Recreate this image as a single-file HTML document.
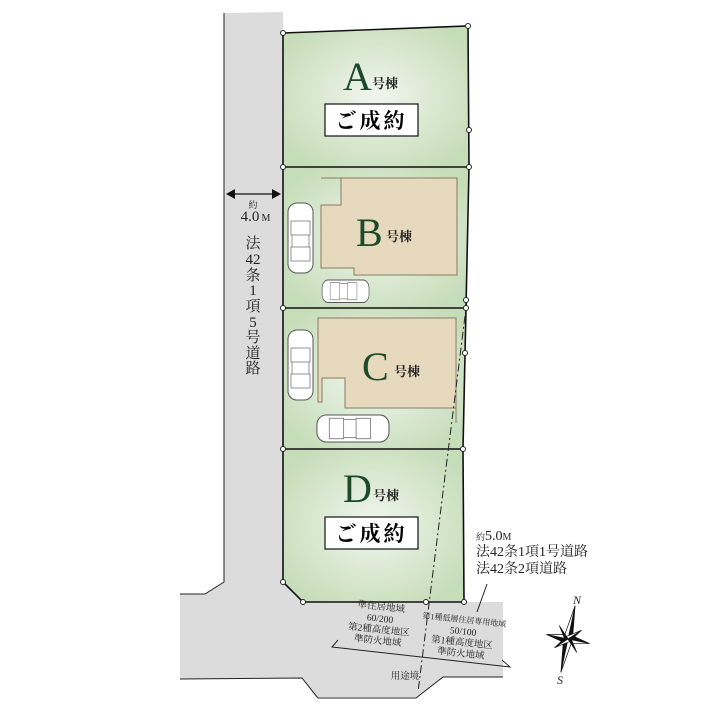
<!DOCTYPE html>
<html><head><meta charset="utf-8"><style>
html,body{margin:0;padding:0;background:#fff}
svg{display:block}
text{font-family:"Liberation Serif","Noto Serif CJK SC","Noto Sans CJK JP",serif}
</style></head><body>
<svg width="709" height="709" viewBox="0 0 709 709" xmlns="http://www.w3.org/2000/svg">
<defs>
<radialGradient id="g" cx="50%" cy="50%" r="60%">
<stop offset="0" stop-color="#f1f6ee"/><stop offset="1" stop-color="#c6ddb9"/>
</radialGradient>
<g id="carv">
<rect x="0" y="0" width="25" height="70" rx="9" fill="#fff" stroke="#555" stroke-width="1"/>
<rect x="3" y="18" width="19" height="14" fill="#fff" stroke="#666" stroke-width="0.7"/>
<rect x="3" y="44" width="19" height="14" fill="#fff" stroke="#666" stroke-width="0.7"/>
<line x1="4" y1="32" x2="4" y2="44" stroke="#666" stroke-width="0.7"/>
<line x1="21" y1="32" x2="21" y2="44" stroke="#666" stroke-width="0.7"/>
</g>
</defs>
<polygon points="224,13 283,12 283,582 303,602 503,602 503,677 443,677 416,697 315,697 302,678 180,679 180,594 205,594 224,582" fill="#dcdcdc"/>
<polyline points="224,13 224,582 205,594 180,594" fill="none" stroke="#222" stroke-width="1"/>
<polyline points="180,679 302,678 318,698 416,698 443,677 503,677" fill="none" stroke="#222" stroke-width="1"/>
<polygon points="283,33 468,26 469,167 283,167" fill="url(#g)"/>
<polygon points="283,167 469,167 466,308 283,308" fill="url(#g)"/>
<polygon points="283,308 466,308 463,449 283,449" fill="url(#g)"/>
<polygon points="283,449 463,449 464,602 303,602 283,582" fill="url(#g)"/>
<g fill="none" stroke="#111" stroke-width="1.6">
<polygon points="283,33 468,26 469,167 466,308 463,449 464,602 303,602 283,582"/>
<line x1="283" y1="167" x2="469" y2="167"/>
<line x1="283" y1="308" x2="466" y2="308"/>
<line x1="283" y1="449" x2="463" y2="449"/>
</g>
<polygon points="341,178 457,178 457,275 354,275 354,268 321,268 321,205 341,205" fill="#e6d9be" stroke="#8a7a60" stroke-width="1"/>
<line x1="321" y1="178" x2="341" y2="178" stroke="#8a7a60"/>
<polygon points="318,318 456,318 456,408 345,408 345,378 322,378 322,402 318,402" fill="#e6d9be" stroke="#8a7a60" stroke-width="1"/>
<line x1="456" y1="408" x2="456" y2="423" stroke="#8a7a60"/>
<use href="#carv" x="288" y="203"/>
<use href="#carv" x="288" y="330"/>
<g transform="translate(369,280) rotate(90)"><use href="#carv" x="0" y="0" transform="scale(0.9,0.67)"/></g>
<g transform="translate(389,415) rotate(90)"><use href="#carv" x="0" y="0" transform="scale(1.08,1.03)"/></g>
<line x1="467" y1="300" x2="418" y2="692" stroke="#222" stroke-width="1" stroke-dasharray="8,3,2,3"/>
<g fill="#fff" stroke="#222" stroke-width="1">
<circle cx="283" cy="33" r="2.5"/><circle cx="468" cy="26" r="2.5"/><circle cx="469" cy="130" r="2.5"/>
<circle cx="283" cy="167" r="2.5"/><circle cx="469" cy="167" r="2.5"/>
<circle cx="466" cy="300" r="2.5"/><circle cx="283" cy="308" r="2.5"/><circle cx="466" cy="308" r="2.5"/>
<circle cx="465" cy="353" r="2.5"/><circle cx="283" cy="449" r="2.5"/><circle cx="463" cy="449" r="2.5"/>
<circle cx="283" cy="582" r="2.5"/><circle cx="303" cy="602" r="2.5"/><circle cx="426" cy="602" r="2.5"/><circle cx="464" cy="602" r="2.5"/>
</g>
<g fill="#1c4a2a">
<text x="343" y="90" font-size="40">A</text><text x="372" y="88" font-size="13" font-weight="bold" fill="#222">号棟</text>
<text x="356" y="246" font-size="40">B</text><text x="386" y="241" font-size="13" font-weight="bold" fill="#222">号棟</text>
<text x="362" y="380" font-size="40">C</text><text x="394" y="376" font-size="13" font-weight="bold" fill="#222">号棟</text>
<text x="343" y="502" font-size="40">D</text><text x="373" y="500" font-size="13" font-weight="bold" fill="#222">号棟</text>
</g>
<rect x="325" y="104" width="93" height="32" fill="#fff" stroke="#111" stroke-width="1.2"/>
<text x="371.5" y="128" font-size="21" font-weight="bold" text-anchor="middle" letter-spacing="3" style="font-family:'Noto Serif CJK SC','Noto Sans CJK JP',serif">ご成約</text>
<rect x="325" y="517" width="93" height="32" fill="#fff" stroke="#111" stroke-width="1.2"/>
<text x="371.5" y="541" font-size="21" font-weight="bold" text-anchor="middle" letter-spacing="3" style="font-family:'Noto Serif CJK SC','Noto Sans CJK JP',serif">ご成約</text>
<line x1="230" y1="194" x2="277" y2="194" stroke="#111" stroke-width="1.2"/>
<polygon points="226,194 235,189 235,199" fill="#111"/><polygon points="281,194 272,189 272,199" fill="#111"/>
<g font-size="15" text-anchor="middle" fill="#222">
<text x="253" y="208" font-size="9">約</text>
<text x="250" y="221" font-size="15">4.0</text><text x="266" y="221" font-size="10">M</text>
<text x="253" y="248">法</text><text x="253" y="264">42</text><text x="253" y="280">条</text>
<text x="253" y="295">1</text><text x="253" y="311">項</text><text x="253" y="327">5</text>
<text x="253" y="342">号</text><text x="253" y="358">道</text><text x="253" y="373">路</text>
</g>
<g fill="#222" font-size="14">
<text x="476" y="540"><tspan font-size="9">約</tspan>5.0<tspan font-size="10">M</tspan></text>
<text x="476" y="556">法42条1項1号道路</text>
<text x="476" y="573">法42条2項道路</text>
</g>
<line x1="487" y1="584" x2="477" y2="612" stroke="#222"/>
<polyline points="338,640 332,647 510,667 502,660" fill="none" stroke="#222" stroke-width="1"/>
<g fill="#222" font-size="9.5" text-anchor="middle" transform="rotate(6 420 640)">
<text x="378" y="614">準住居地域</text><text x="378" y="626">60/200</text>
<text x="378" y="637">第2種高度地区</text><text x="378" y="648">準防火地域</text>
<text x="462" y="618" font-size="8">第1種低層住居専用地域</text><text x="462" y="630">50/100</text>
<text x="462" y="641">第1種高度地区</text><text x="462" y="652">準防火地域</text>
</g>
<text x="405" y="679" font-size="9.5" text-anchor="middle" fill="#222">用途境</text>
<g transform="translate(568,639) rotate(12)" stroke="#111" stroke-width="0.7">
<polygon points="0,-34 4,-4 0,0" fill="#111"/><polygon points="0,-34 -4,-4 0,0" fill="#fff"/>
<polygon points="0,34 -4,4 0,0" fill="#111"/><polygon points="0,34 4,4 0,0" fill="#fff"/>
<polygon points="-22,0 -4,4 0,0" fill="#111"/><polygon points="-22,0 -4,-4 0,0" fill="#fff"/>
<polygon points="22,0 4,-4 0,0" fill="#111"/><polygon points="22,0 4,4 0,0" fill="#fff"/>
<g transform="rotate(45)">
<polygon points="0,-16 3,0 0,0" fill="#111"/><polygon points="0,-16 -3,0 0,0" fill="#fff"/>
<polygon points="0,16 -3,0 0,0" fill="#111"/><polygon points="0,16 3,0 0,0" fill="#fff"/>
<polygon points="-16,0 0,3 0,0" fill="#111"/><polygon points="16,0 0,-3 0,0" fill="#111"/>
</g>
</g>
<text x="577" y="604" font-size="12" font-style="italic" fill="#222" text-anchor="middle">N</text>
<text x="560" y="684" font-size="12" font-style="italic" fill="#222" text-anchor="middle">S</text>
</svg>
</body></html>
